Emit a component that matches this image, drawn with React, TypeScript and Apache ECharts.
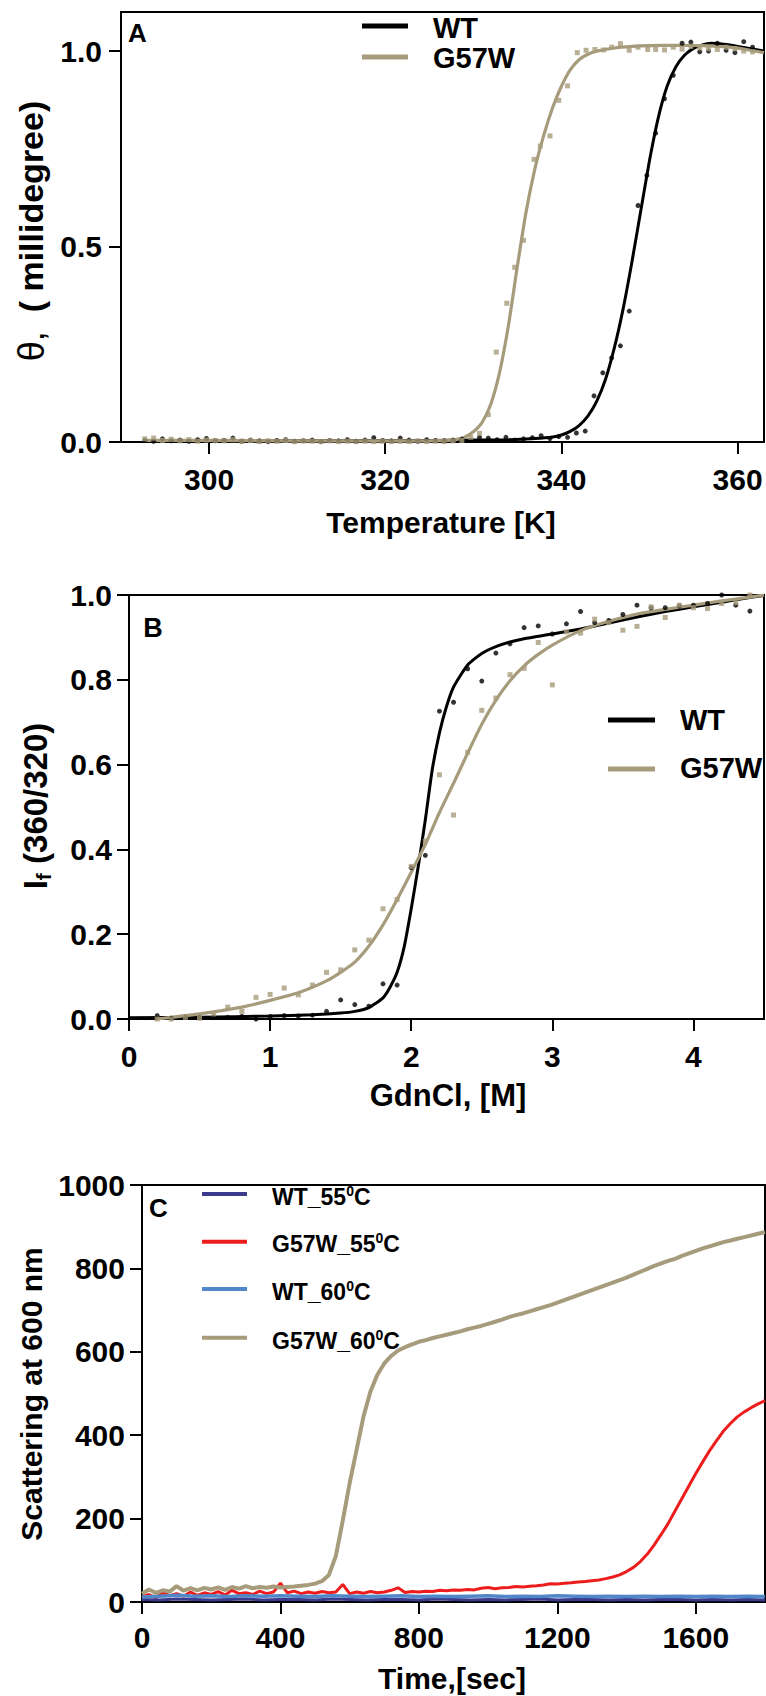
import React, { useEffect, useRef } from "react";
import * as echarts from "echarts";

const FONT = '"Liberation Sans", Arial, Helvetica, sans-serif';
const TAN = "#A69B7B";
const BLACK = "#000000";
const RED = "#EE1D1D";
const NAVY = "#3C3A8C";
const SKY = "#5087C8";

// ---------- Panel A : thermal melt (CD) ----------
const aTicksX = [300, 320, 340, 360];
const aTicksY = [0, 0.5, 1.0];

const aWtX = [292.7, 293.7, 294.7, 295.7, 296.7, 297.7, 298.7, 299.7, 300.7, 301.7, 302.7, 303.7, 304.7, 305.7, 306.7, 307.7, 308.7, 309.7, 310.7, 311.7, 312.7, 313.7, 314.7, 315.7, 316.7, 317.7, 318.7, 319.7, 320.7, 321.7, 322.7, 323.7, 324.7, 325.7, 326.7, 327.7, 328.7, 329.7, 330.7, 331.7, 332.7, 333.7, 334.7, 335.7, 336.7, 337.7, 338.7, 339.7, 340.7, 341.7, 342.7, 343.7, 344.7, 345.7, 346.7, 347.7, 348.7, 349.7, 350.7, 351.7, 352.7, 353.7, 354.7, 355.7, 356.7, 357.7, 358.7, 359.7, 360.7, 361.7];
const aWtY = [0.004, 0.002, 0.008, 0.003, 0.005, 0.002, 0.006, 0.009, 0.003, 0.004, 0.010, 0.002, 0.005, 0.003, 0.001, 0.004, 0.006, 0.002, 0.003, 0.005, 0.001, 0.004, 0.003, 0.006, 0.002, 0.005, 0.011, 0.004, 0.003, 0.010, 0.005, 0.002, 0.006, 0.004, 0.003, 0.005, 0.007, 0.004, 0.012, 0.010, 0.006, 0.012, 0.005, 0.008, 0.011, 0.016, 0.009, 0.014, 0.012, 0.023, 0.028, 0.118, 0.177, 0.215, 0.246, 0.335, 0.605, 0.682, 0.79, 0.878, 0.938, 1.02, 1.023, 0.998, 1.0, 1.02, 1.002, 0.996, 1.024, 1.01];

const aMutX = [292.7, 293.7, 294.7, 295.7, 296.7, 297.7, 298.7, 299.7, 300.7, 301.7, 302.7, 303.7, 304.7, 305.7, 306.7, 307.7, 308.7, 309.7, 310.7, 311.7, 312.7, 313.7, 314.7, 315.7, 316.7, 317.7, 318.7, 319.7, 320.7, 321.7, 322.7, 323.7, 324.7, 325.7, 326.7, 327.7, 328.7, 329.7, 330.7, 331.7, 332.6, 333.8, 334.7, 335.7, 336.9, 337.6, 338.7, 339.7, 340.7, 341.8, 342.8, 343.8, 344.8, 345.7, 346.7, 347.7, 348.7, 349.8, 350.7, 351.7, 352.7, 353.7, 354.7, 355.7, 356.7, 357.7, 358.7, 359.7, 360.7, 361.7];
const aMutY = [0.008, 0.010, 0.004, 0.007, 0.003, 0.006, 0.002, 0.005, 0.004, 0.003, 0.006, 0.002, 0.004, 0.001, 0.003, 0.002, 0.004, 0.001, 0.003, 0.002, 0.001, 0.003, 0.001, 0.002, 0.001, 0.002, 0.001, 0.002, 0.001, 0.002, 0.001, 0.003, 0.001, 0.002, 0.001, 0.003, 0.004, 0.012, 0.022, 0.07, 0.23, 0.355, 0.447, 0.516, 0.723, 0.757, 0.783, 0.874, 0.911, 0.996, 1.002, 1.004, 1.003, 1.01, 1.019, 1.002, 1.01, 1.004, 1.004, 1.003, 1.01, 1.005, 1.012, 1.008, 1.006, 1.004, 1.01, 1.006, 1.0, 0.998];

const aWtFitX = [292.7, 300, 310, 320, 325, 330, 334, 337, 339, 340, 341, 342, 343, 344, 345, 346, 347, 348, 349, 350, 351, 352, 353, 354, 355, 356, 357, 358, 359, 360, 361, 362, 363];
const aWtFitY = [0.002, 0.003, 0.003, 0.004, 0.004, 0.005, 0.006, 0.009, 0.013, 0.018, 0.027, 0.042, 0.066, 0.104, 0.16, 0.24, 0.34, 0.46, 0.59, 0.72, 0.83, 0.91, 0.96, 0.99, 1.007, 1.016, 1.02, 1.019, 1.016, 1.012, 1.008, 1.004, 1.0];

const aMutFitX = [292.7, 300, 310, 320, 325, 327, 328, 329, 330, 331, 332, 333, 334, 335, 336, 337, 338, 339, 340, 341, 342, 343, 344, 346, 348, 350, 353, 356, 359, 361, 363];
const aMutFitY = [0.004, 0.004, 0.003, 0.003, 0.003, 0.004, 0.006, 0.012, 0.026, 0.05, 0.098, 0.18, 0.30, 0.45, 0.59, 0.70, 0.785, 0.855, 0.91, 0.952, 0.978, 0.992, 1.0, 1.008, 1.012, 1.014, 1.015, 1.014, 1.01, 1.004, 0.996];

// ---------- Panel B : GdnCl denaturation ----------
const bTicksX = [0, 1, 2, 3, 4];
const bTicksY = [0, 0.2, 0.4, 0.6, 0.8, 1.0];
const bConc = [0.2, 0.3, 0.4, 0.5, 0.6, 0.7, 0.8, 0.9, 1.0, 1.1, 1.2, 1.3, 1.4, 1.5, 1.6, 1.7, 1.8, 1.9, 2.0, 2.1, 2.2, 2.3, 2.4, 2.5, 2.6, 2.7, 2.8, 2.9, 3.0, 3.1, 3.2, 3.3, 3.4, 3.5, 3.6, 3.7, 3.8, 3.9, 4.0, 4.1, 4.2, 4.3, 4.4];
const bWtY = [0.008, 0.002, 0.004, 0.003, 0.005, 0.004, 0.006, 0.0, 0.006, 0.008, 0.007, 0.009, 0.018, 0.045, 0.034, 0.03, 0.083, 0.08, 0.357, 0.386, 0.726, 0.747, 0.826, 0.797, 0.863, 0.885, 0.923, 0.927, 0.908, 0.932, 0.961, 0.935, 0.94, 0.954, 0.976, 0.97, 0.97, 0.974, 0.976, 0.98, 1.0, 0.976, 0.962];
const bMutY = [0.0, 0.0, 0.004, 0.002, 0.012, 0.028, 0.018, 0.051, 0.058, 0.073, 0.057, 0.08, 0.11, 0.116, 0.163, 0.186, 0.26, 0.282, 0.36, 0.42, 0.576, 0.481, 0.629, 0.728, 0.757, 0.812, 0.827, 0.888, 0.788, 0.913, 0.91, 0.943, 0.935, 0.917, 0.926, 0.972, 0.947, 0.976, 0.97, 0.968, 0.98, 0.982, 1.0];

const bWtFitX = [0, 0.5, 1.0, 1.3, 1.5, 1.6, 1.7, 1.8, 1.85, 1.9, 1.95, 2.0, 2.05, 2.1, 2.15, 2.2, 2.25, 2.3, 2.4, 2.5, 2.6, 2.7, 2.8, 3.0, 3.2, 3.4, 3.6, 3.8, 4.0, 4.2, 4.4, 4.5];
const bWtFitY = [0.003, 0.004, 0.007, 0.01, 0.014, 0.018, 0.027, 0.05, 0.075, 0.11, 0.17, 0.26, 0.36, 0.47, 0.59, 0.675, 0.737, 0.783, 0.835, 0.862, 0.878, 0.889, 0.897, 0.908, 0.92, 0.934, 0.948, 0.961, 0.972, 0.983, 0.994, 0.999];

const bMutFitX = [0.2, 0.5, 0.8, 1.0, 1.2, 1.4, 1.5, 1.6, 1.7, 1.8, 1.9, 2.0, 2.1, 2.2, 2.3, 2.4, 2.5, 2.6, 2.7, 2.8, 2.9, 3.0, 3.2, 3.4, 3.6, 3.8, 4.0, 4.2, 4.4, 4.5];
const bMutFitY = [0.0, 0.012, 0.028, 0.044, 0.062, 0.09, 0.11, 0.134, 0.172, 0.222, 0.282, 0.346, 0.412, 0.487, 0.556, 0.627, 0.695, 0.752, 0.798, 0.833, 0.86, 0.882, 0.916, 0.938, 0.955, 0.966, 0.976, 0.986, 0.995, 1.0];

// ---------- Panel C : aggregation kinetics ----------
const cTicksX = [0, 400, 800, 1200, 1600];
const cTicksY = [0, 200, 400, 600, 800, 1000];
const cTimeFine = [0, 20, 40, 60, 80, 100, 120, 140, 160, 180, 200, 220, 240, 260, 280, 300, 320, 340, 360, 380, 400, 420, 440, 460, 480, 500, 520, 540, 560, 580, 600, 620, 640, 660, 680, 700, 720, 740, 760, 780, 800, 820, 840, 860, 880, 900, 920, 940, 960, 980, 1000, 1020, 1040, 1060, 1080, 1100, 1120, 1140, 1160, 1180, 1200, 1220, 1240, 1260, 1280, 1300, 1320, 1340, 1360, 1380, 1400, 1420, 1440, 1460, 1480, 1500, 1520, 1540, 1560, 1580, 1600, 1620, 1640, 1660, 1680, 1700, 1720, 1740, 1760, 1780, 1800];
const cMut60 = [20, 30, 22, 28, 25, 38, 27, 33, 28, 34, 30, 35, 29, 36, 32, 38, 33, 36, 34, 37, 35, 36, 37, 39, 41, 44, 50, 65, 110, 195, 285, 365, 445, 505, 545, 572, 590, 603, 611, 618, 624, 628, 633, 637, 641, 645, 649, 654, 658, 662, 667, 672, 677, 683, 688, 692, 697, 702, 707, 712, 718, 724, 730, 736, 742, 748, 754, 760, 766, 772, 778, 785, 792, 799, 806, 812, 818, 823, 830, 836, 842, 848, 853, 858, 863, 867, 871, 875, 879, 883, 887];
const cMut55 = [12, 18, 10, 22, 15, 20, 14, 24, 16, 22, 18, 25, 17, 28, 20, 22, 18, 26, 20, 24, 45, 22, 26, 20, 24, 21, 25, 22, 24, 42, 20, 24, 21, 25, 22, 24, 28, 34, 23, 25, 24, 26, 25, 28, 27, 29, 28, 30, 29, 33, 35, 32, 34, 35, 37, 36, 38, 39, 41, 44, 43, 45, 46, 48, 49, 51, 53, 56, 60, 65, 73, 83, 97, 115, 137, 162, 188, 218, 248, 278, 308, 336, 363, 387, 410, 428, 444, 456, 466, 475, 483];
const cTimeCoarse = [0, 50, 100, 150, 200, 250, 300, 350, 400, 450, 500, 550, 600, 650, 700, 750, 800, 850, 900, 950, 1000, 1050, 1100, 1150, 1200, 1250, 1300, 1350, 1400, 1450, 1500, 1550, 1600, 1650, 1700, 1750, 1800];
const cWt60 = [12, 14, 16, 14, 15, 13, 15, 14, 15, 14, 13, 15, 14, 13, 14, 15, 13, 14, 13, 14, 15, 13, 14, 13, 15, 14, 13, 14, 13, 14, 13, 14, 13, 14, 13, 14, 13];
const cWt55 = [6, 5, 7, 6, 5, 6, 7, 5, 6, 6, 5, 7, 6, 5, 6, 6, 5, 7, 6, 5, 6, 5, 6, 7, 5, 6, 6, 5, 6, 5, 6, 6, 5, 6, 5, 6, 5];

const zip = (xs: number[], ys: number[]) => xs.map((x, i) => [x, ys[i]]);

const tickLabel = (size = 30) => ({
  fontSize: size,
  fontWeight: "bold" as const,
  color: "#000",
  fontFamily: FONT,
});

function makeAxis(gridIndex: number, min: number, max: number, ticks: number[], margin: number, fmt?: (v: number) => string) {
  return {
    type: "value",
    gridIndex,
    min,
    max,
    axisLine: { show: true, onZero: false, lineStyle: { color: "#000", width: 2 } },
    axisTick: { show: true, inside: false, length: 12, customValues: ticks, lineStyle: { color: "#000", width: 2 } },
    axisLabel: { ...tickLabel(), margin, customValues: ticks, formatter: fmt || ((v: number) => String(v)) },
    splitLine: { show: false },
  };
}

function fitLine(name: string, xi: number, yi: number, data: number[][], color: string, width = 3) {
  return {
    name,
    type: "line",
    xAxisIndex: xi,
    yAxisIndex: yi,
    data,
    showSymbol: false,
    symbol: "none",
    smooth: 0.2,
    lineStyle: { color, width },
    itemStyle: { color },
    silent: true,
    z: 3,
  };
}

function dots(name: string, xi: number, yi: number, data: number[][], color: string, symbol: string, size: number) {
  return {
    name,
    type: "scatter",
    xAxisIndex: xi,
    yAxisIndex: yi,
    data,
    symbol,
    symbolSize: size,
    itemStyle: { color },
    clip: false,
    silent: true,
    z: 4,
  };
}

function rawLine(name: string, data: number[][], color: string, width = 3, z = 3) {
  return {
    name,
    type: "line",
    xAxisIndex: 2,
    yAxisIndex: 2,
    data,
    showSymbol: false,
    symbol: "none",
    lineStyle: { color, width },
    itemStyle: { color },
    silent: true,
    z,
  };
}

function txt(x: number, y: number, text: string, size: number, opts: any = {}) {
  return {
    type: "text",
    x,
    y,
    rotation: opts.rotation || 0,
    style: {
      text,
      fill: "#000",
      fontSize: size,
      fontWeight: opts.weight || "bold",
      fontFamily: FONT,
      align: opts.align || "center",
      verticalAlign: "middle",
      textAlign: opts.align || "center",
      textVerticalAlign: "middle",
      rich: opts.rich,
    },
    z: 10,
  };
}

function legLine(x1: number, x2: number, y: number, color: string, w: number) {
  return {
    type: "line",
    shape: { x1, y1: y, x2, y2: y },
    style: { stroke: color, lineWidth: w },
    z: 10,
  };
}

export default function App() {
  const ref = useRef<HTMLDivElement>(null);

  useEffect(() => {
    document.body.style.margin = "0";
    if (!ref.current) return;
    const chart = echarts.init(ref.current, undefined, { renderer: "svg" });

    const supRich = {
      m: { fontSize: 23, fontWeight: "bold", fontFamily: FONT, lineHeight: 26, color: "#000" },
      s: { fontSize: 14, fontWeight: "bold", fontFamily: FONT, lineHeight: 14, verticalAlign: "top", color: "#000" },
    };

    const option: any = {
      animation: false,
      backgroundColor: "#ffffff",
      textStyle: { fontFamily: FONT },
      grid: [
        { left: 121, top: 12, width: 643, height: 430, show: true, borderColor: "#000", borderWidth: 2, backgroundColor: "transparent" },
        { left: 129, top: 595, width: 635, height: 424, show: true, borderColor: "#000", borderWidth: 2, backgroundColor: "transparent" },
        { left: 142, top: 1185, width: 623, height: 417, show: true, borderColor: "#000", borderWidth: 2, backgroundColor: "transparent" },
      ],
      xAxis: [
        makeAxis(0, 290, 363, aTicksX, 22),
        makeAxis(1, 0, 4.5, bTicksX, 22),
        makeAxis(2, 0, 1800, cTicksX, 20),
      ],
      yAxis: [
        makeAxis(0, 0, 1.1, aTicksY, 19, (v: number) => v.toFixed(1)),
        makeAxis(1, 0, 1.0, bTicksY, 17, (v: number) => v.toFixed(1)),
        makeAxis(2, 0, 1000, cTicksY, 17),
      ],
      series: [
        fitLine("WT fit A", 0, 0, zip(aWtFitX, aWtFitY), BLACK, 3),
        fitLine("G57W fit A", 0, 0, zip(aMutFitX, aMutFitY), TAN, 3.2),
        dots("WT A", 0, 0, zip(aWtX, aWtY), BLACK, "circle", 5),
        dots("G57W A", 0, 0, zip(aMutX, aMutY), TAN, "rect", 5),

        fitLine("WT fit B", 1, 1, zip(bWtFitX, bWtFitY), BLACK, 3),
        fitLine("G57W fit B", 1, 1, zip(bMutFitX, bMutFitY), TAN, 3.2),
        dots("WT B", 1, 1, zip(bConc, bWtY), BLACK, "circle", 5),
        dots("G57W B", 1, 1, zip(bConc, bMutY), TAN, "rect", 5),

        rawLine("G57W_55", zip(cTimeFine, cMut55), RED, 3, 3),
        rawLine("WT_55", zip(cTimeCoarse, cWt55), NAVY, 3, 4),
        rawLine("WT_60", zip(cTimeCoarse, cWt60), SKY, 3.5, 5),
        rawLine("G57W_60", zip(cTimeFine, cMut60), TAN, 4, 6),
      ],
      graphic: [
        // panel letters
        txt(137.5, 33, "A", 26),
        txt(153, 628, "B", 27),
        txt(158.5, 1208, "C", 26),

        // axis titles
        txt(441, 522, "Temperature [K]", 30),
        txt(448, 1095, "GdnCl, [M]", 31),
        txt(452, 1678, "Time,[sec]", 30),
        txt(31, 231, "{t|θ,}  {b|( millidegree)}", 34, {
          rotation: Math.PI / 2,
          rich: {
            t: { fontSize: 36, fontWeight: "normal", fontFamily: FONT, color: "#000", lineHeight: 40 },
            b: { fontSize: 34, fontWeight: "bold", fontFamily: FONT, color: "#000", lineHeight: 40 },
          },
        }),
        txt(35, 806, "{i|I}{s|f}{i| (360/320)}", 33, {
          rotation: Math.PI / 2,
          rich: {
            i: { fontSize: 33, fontWeight: "bold", fontFamily: FONT, color: "#000", lineHeight: 38 },
            s: { fontSize: 21, fontWeight: "bold", fontFamily: FONT, color: "#000", lineHeight: 22, verticalAlign: "bottom" },
          },
        }),
        txt(31, 1394, "Scattering at 600 nm", 30, { rotation: Math.PI / 2 }),

        // legend A
        legLine(362, 408, 26, BLACK, 5),
        legLine(362, 408, 57, TAN, 5),
        txt(433, 27.5, "WT", 29, { align: "left" }),
        txt(433, 58, "G57W", 29, { align: "left" }),

        // legend B
        legLine(608, 655, 720, BLACK, 5),
        legLine(608, 655, 769, TAN, 5),
        txt(680, 720, "WT", 29, { align: "left" }),
        txt(680, 768, "G57W", 29, { align: "left" }),

        // legend C
        legLine(202, 247, 1194, NAVY, 4),
        legLine(202, 247, 1241.7, RED, 4),
        legLine(202, 247, 1289, SKY, 4),
        legLine(202, 247, 1337.7, TAN, 4),
        txt(272, 1197, "{m|WT_55}{s|0}{m|C}", 23, { align: "left", rich: supRich }),
        txt(272, 1244, "{m|G57W_55}{s|0}{m|C}", 23, { align: "left", rich: supRich }),
        txt(272, 1291.5, "{m|WT_60}{s|0}{m|C}", 23, { align: "left", rich: supRich }),
        txt(272, 1341, "{m|G57W_60}{s|0}{m|C}", 23, { align: "left", rich: supRich }),
      ],
    };

    chart.setOption(option);
    return () => {
      chart.dispose();
    };
  }, []);

  return (
    <div
      ref={ref}
      style={{ position: "absolute", left: 0, top: 0, width: 766, height: 1696, background: "#fff" }}
    />
  );
}
